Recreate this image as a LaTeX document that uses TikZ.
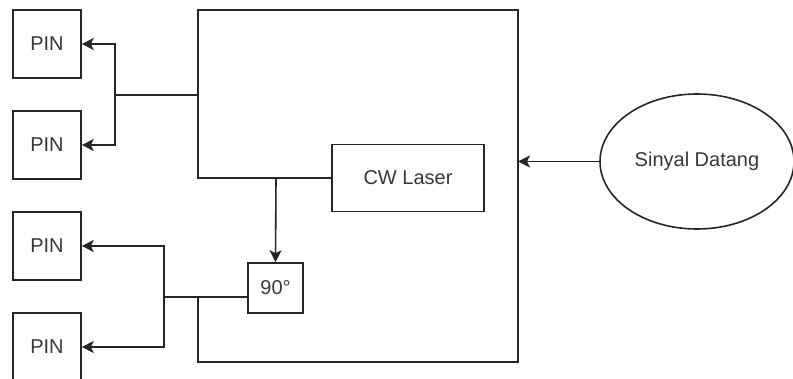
\documentclass[tikz,border=0pt]{standalone}
\usepackage{fontspec}
\setmainfont{Liberation Sans}
\usetikzlibrary{arrows.meta,shapes.geometric}
\begin{document}
\begin{tikzpicture}[x=1pt,y=-1pt,
  box/.style={draw=black!85, line width=1.6pt, minimum width=68pt, minimum height=68pt, inner sep=0pt, text=black!78, font=\fontsize{20}{23}\selectfont},
  conn/.style={draw=black!85, line width=1.6pt},
  arr/.style={conn, -{Stealth[length=12pt,width=12pt,inset=3pt]}}]
\clip (0,0) rectangle (793,379);
\fill[white] (0,0) rectangle (793,379);
% PIN detectors
\node[box] (p1) at (47,44) {PIN};
\node[box] (p2) at (47,145) {PIN};
\node[box] (p3) at (47,246) {PIN};
\node[box] (p4) at (47,347) {PIN};
% inner components
\node[box, minimum width=152pt, minimum height=67pt] (laser) at (408,178) {CW Laser};
\node[box, minimum width=55pt, minimum height=50pt] (ph) at (275.5,288) {90°};
\node[box, ellipse, minimum width=194pt, minimum height=135pt] (sig) at (697,161.5) {Sinyal Datang};
% hybrid outline
\draw[conn] (198,297) -- (198,362) -- (518,362) -- (518,10) -- (198,10) -- (198,178) -- (laser.west);
% junctions
\coordinate (m1) at (198,95);
\coordinate (j1) at (115,95);
\coordinate (j2) at (164,297);
\coordinate (phin) at (248,297);
\coordinate (ls) at (276,178);
\coordinate (mr) at (518,161.5);
\draw[conn] (m1) -- (j1);
\draw[arr] (j1) |- (p1.east);
\draw[arr] (j1) |- (p2.east);
\draw[conn] (phin) -- (j2);
\draw[arr] (j2) |- (p3.east);
\draw[arr] (j2) |- (p4.east);
\draw[arr] (ls) -- (ph.north);
\draw[arr] (sig.west) -- (mr);
\end{tikzpicture}
\end{document}
